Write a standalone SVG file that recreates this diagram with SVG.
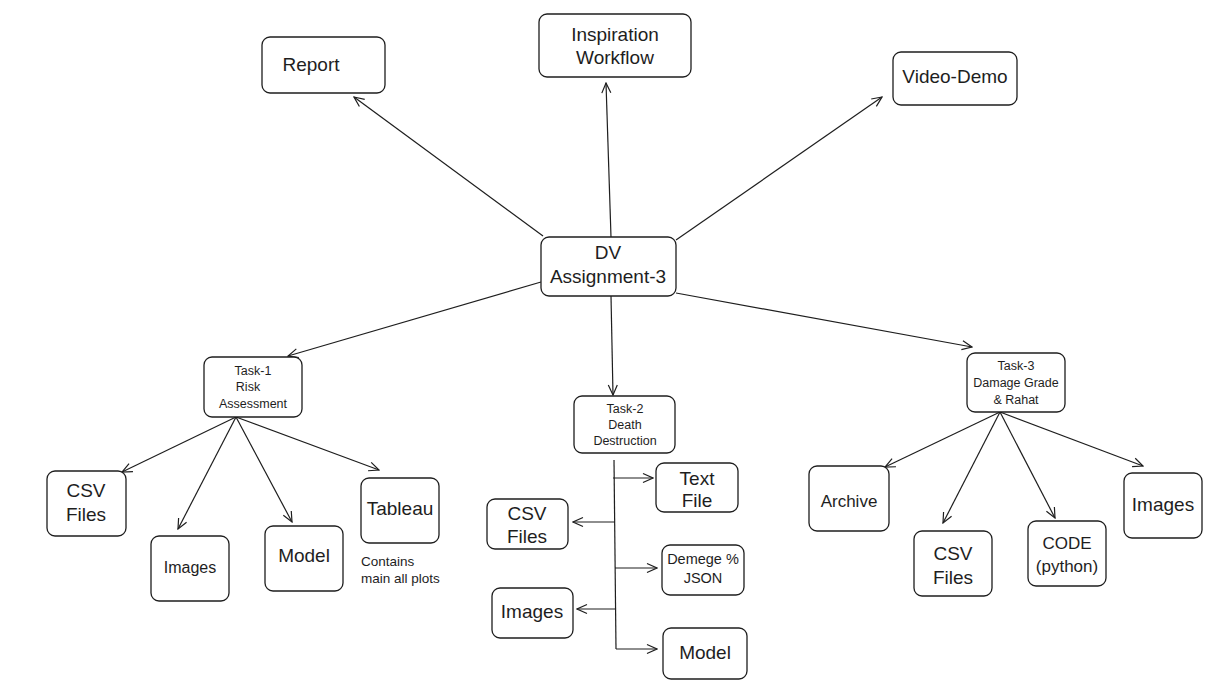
<svg xmlns="http://www.w3.org/2000/svg" width="1228" height="689" viewBox="0 0 1228 689">
<style>
.box{fill:#fff;stroke:#1e1e1e;stroke-width:1.3}
.t{font-family:"Liberation Sans","DejaVu Sans",sans-serif;fill:#1e1e1e;text-anchor:middle}
.l{font-size:19px}
.s{font-size:12.5px}
.c{stroke:#1e1e1e;stroke-width:1.2;fill:none}
.a{marker-end:url(#ah)}
</style>
<defs>
<marker id="ah" viewBox="0 0 12 12" refX="11" refY="6" markerWidth="12" markerHeight="12" markerUnits="userSpaceOnUse" orient="auto">
<path d="M1,1.5 L11,6 L1,10.5" fill="none" stroke="#1e1e1e" stroke-width="1.2"/>
</marker>
</defs>
<rect width="1228" height="689" fill="#fff"/>
<g id="connectors">
<line class="c a" x1="543" y1="236" x2="354" y2="97"/>
<line class="c a" x1="611" y1="237" x2="606" y2="83"/>
<line class="c a" x1="676" y1="240" x2="882" y2="97"/>
<line class="c a" x1="541" y1="282" x2="288" y2="356"/>
<line class="c a" x1="611" y1="296" x2="613" y2="395"/>
<line class="c a" x1="676" y1="293" x2="972" y2="347"/>
<line class="c a" x1="236" y1="417" x2="122" y2="472"/>
<line class="c a" x1="236" y1="417" x2="178" y2="529"/>
<line class="c a" x1="236" y1="417" x2="292" y2="522"/>
<line class="c a" x1="236" y1="417" x2="379" y2="470"/>
<line class="c" x1="614" y1="460" x2="616" y2="649"/>
<line class="c a" x1="613" y1="478" x2="653" y2="478"/>
<line class="c a" x1="615" y1="522" x2="573" y2="522"/>
<line class="c a" x1="615" y1="568" x2="657" y2="568"/>
<line class="c a" x1="615" y1="609" x2="577" y2="609"/>
<line class="c a" x1="616" y1="649" x2="657" y2="649"/>
<line class="c a" x1="1000" y1="412" x2="885" y2="467"/>
<line class="c a" x1="1000" y1="412" x2="943" y2="523"/>
<line class="c a" x1="1000" y1="412" x2="1055" y2="518"/>
<line class="c a" x1="1000" y1="412" x2="1143" y2="466"/>
</g>
<g id="report"><rect class="box" x="262" y="37" width="123" height="56" rx="8"/><text class="t l" x="311" y="71">Report</text></g>
<g id="inspiration"><rect class="box" x="539" y="14" width="152" height="63" rx="8"/><text class="t l" x="615" y="41">Inspiration</text><text class="t l" x="615" y="64">Workflow</text></g>
<g id="video"><rect class="box" x="893" y="52" width="124" height="53" rx="8"/><text class="t l" x="955" y="83">Video-Demo</text></g>
<g id="dv"><rect class="box" x="541" y="237" width="135" height="59" rx="8"/><text class="t l" x="608" y="259">DV</text><text class="t l" x="608" y="283">Assignment-3</text></g>
<g id="task1"><rect class="box" x="204" y="357" width="98" height="60" rx="8"/><text class="t s" x="253" y="375">Task-1</text><text class="t s" x="248" y="391">Risk</text><text class="t s" x="253" y="408">Assessment</text></g>
<g id="task2"><rect class="box" x="574" y="396" width="101" height="57" rx="8"/><text class="t s" x="625" y="413">Task-2</text><text class="t s" x="625" y="429">Death</text><text class="t s" x="625" y="445">Destruction</text></g>
<g id="task3"><rect class="box" x="967" y="353" width="98" height="59" rx="8"/><text class="t s" x="1016" y="370">Task-3</text><text class="t s" x="1016" y="387">Damage Grade</text><text class="t s" x="1016" y="404">&amp; Rahat</text></g>
<g id="t1csv"><rect class="box" x="47" y="471" width="79" height="65" rx="8"/><text class="t l" x="86" y="497">CSV</text><text class="t l" x="86" y="521">Files</text></g>
<g id="t1images"><rect class="box" x="151" y="536" width="78" height="65" rx="8"/><text class="t" x="190" y="573" font-size="16">Images</text></g>
<g id="t1model"><rect class="box" x="265" y="526" width="78" height="65" rx="8"/><text class="t l" x="304" y="562">Model</text></g>
<g id="t1tableau"><rect class="box" x="361" y="478" width="78" height="65" rx="8"/><text class="t l" x="400" y="515">Tableau</text></g>
<g id="t1note"><text class="t" x="361" y="566" font-size="13.5" text-anchor="start" style="text-anchor:start">Contains</text><text class="t" x="361" y="583" font-size="13.5" style="text-anchor:start">main all plots</text></g>
<g id="t2text"><rect class="box" x="656" y="463" width="82" height="49" rx="8"/><text class="t l" x="697" y="485">Text</text><text class="t l" x="697" y="507">File</text></g>
<g id="t2csv"><rect class="box" x="487" y="499" width="81" height="50" rx="8"/><text class="t l" x="527" y="520">CSV</text><text class="t l" x="527" y="543">Files</text></g>
<g id="t2json"><rect class="box" x="662" y="545" width="82" height="50" rx="8"/><text class="t" x="703" y="564" font-size="14.5">Demege %</text><text class="t" x="703" y="583" font-size="14.5">JSON</text></g>
<g id="t2images"><rect class="box" x="492" y="588" width="81" height="50" rx="8"/><text class="t l" x="532" y="618">Images</text></g>
<g id="t2model"><rect class="box" x="663" y="628" width="84" height="51" rx="8"/><text class="t l" x="705" y="659">Model</text></g>
<g id="t3archive"><rect class="box" x="809" y="466" width="80" height="65" rx="8"/><text class="t" x="849" y="507" font-size="17">Archive</text></g>
<g id="t3csv"><rect class="box" x="914" y="531" width="78" height="65" rx="8"/><text class="t l" x="953" y="560">CSV</text><text class="t l" x="953" y="584">Files</text></g>
<g id="t3code"><rect class="box" x="1028" y="521" width="78" height="65" rx="8"/><text class="t" x="1067" y="549" font-size="17">CODE</text><text class="t" x="1067" y="572" font-size="17">(python)</text></g>
<g id="t3images"><rect class="box" x="1124" y="473" width="78" height="65" rx="8"/><text class="t l" x="1163" y="511">Images</text></g>
</svg>
